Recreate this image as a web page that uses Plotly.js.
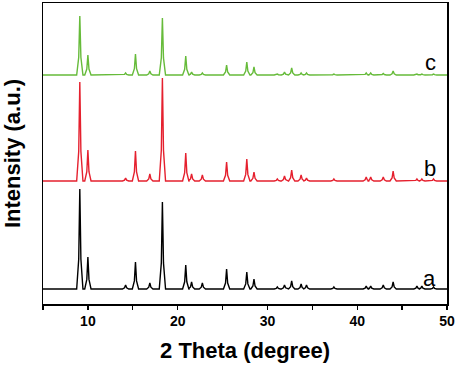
<!DOCTYPE html>
<html>
<head>
<meta charset="utf-8">
<script src="https://cdn.plot.ly/plotly-3.0.1.min.js"></script>
<style>html,body{margin:0;padding:0;background:#fff;}#plot{width:456px;height:367px;}</style>
</head>
<body>
<div id="plot"></div>
<script>
// Peak positions (2 theta, degree)
const peakPos = [9.1, 10.0, 14.2, 15.3, 16.9, 18.3, 20.9, 21.55, 22.75, 25.45, 27.7, 28.5, 31.1, 31.9, 32.7, 33.75, 34.35, 37.4, 41.0, 41.5, 42.9, 44.0, 46.65, 47.2, 48.5];
// Peak heights (a.u.) above each pattern's baseline
const heightsA = [100, 32, 4, 27, 6, 87, 24, 7, 6, 20, 17, 10, 2, 4, 8, 5, 4, 2, 3, 3, 4, 7, 3, 3, 2];
const heightsB = [99, 31, 3, 30, 7, 103, 28, 7, 6, 19, 22, 9, 2, 5, 11, 6, 3, 2, 4, 4, 4, 10, 2, 2, 2];
const heightsC = [59, 20, 2, 21, 4, 57, 19, 3, 2, 10, 13, 8, 1, 3, 7, 2, 2, 1, 2, 2, 1.5, 4, 1, 1, 1];
// Vertical offsets of the stacked patterns
const baseA = 0, baseB = 108, baseC = 214;
const labels = ['a', 'b', 'c'];
const xStart = 5, xEnd = 50;

function pattern(heights, base) {
  const xs = [xStart], ys = [base];
  peakPos.forEach((p, i) => {
    const h = heights[i];
    xs.push(p - 0.35, p - 0.12, p, p + 0.12, p + 0.35);
    ys.push(base, base + 0.3 * h, base + h, base + 0.3 * h, base);
  });
  xs.push(xEnd); ys.push(base);
  return {x: xs, y: ys};
}

const pa = pattern(heightsA, baseA), pb = pattern(heightsB, baseB), pc = pattern(heightsC, baseC);
const mk = (p, color) => ({x: p.x, y: p.y, type: 'scatter', mode: 'lines', line: {color: color, width: 1.4}, hoverinfo: 'skip', showlegend: false});
const data = [mk(pa, '#000000'), mk(pb, '#e5202e'), mk(pc, '#66bb3a')];

const FONT = 'Liberation Sans, Arial, sans-serif';
const layout = {
  width: 456, height: 367,
  margin: {l: 43, r: 9, t: 3, b: 63},
  paper_bgcolor: '#fff', plot_bgcolor: '#fff',
  xaxis: {
    range: [5, 50], tick0: 0, dtick: 10,
    ticks: 'outside', ticklen: 4, tickwidth: 1.3, tickcolor: '#000',
    minor: {dtick: 5, ticks: 'outside', ticklen: 4, tickwidth: 1.3, tickcolor: '#000', showgrid: false},
    showline: true, mirror: true, linecolor: '#000', linewidth: 1.5,
    showgrid: false, zeroline: false,
    tickfont: {family: FONT, size: 14, color: '#000', weight: 700},
    title: {text: '2 Theta (degree)', font: {family: FONT, size: 22, color: '#000', weight: 700}, standoff: 14}
  },
  yaxis: {
    range: [-15, 286],
    showticklabels: false, ticks: '',
    showline: true, mirror: true, linecolor: '#000', linewidth: 1.5,
    showgrid: false, zeroline: false,
    title: {text: 'Intensity (a.u.)', font: {family: FONT, size: 22, color: '#000', weight: 700}, standoff: 20}
  },
  annotations: [
    {x: 48.1, y: 11, text: labels[0], showarrow: false, font: {family: FONT, size: 22, color: '#000'}, xanchor: 'center', yanchor: 'middle'},
    {x: 48.1, y: 121, text: labels[1], showarrow: false, font: {family: FONT, size: 22, color: '#000'}, xanchor: 'center', yanchor: 'middle'},
    {x: 48.2, y: 227, text: labels[2], showarrow: false, font: {family: FONT, size: 22, color: '#000'}, xanchor: 'center', yanchor: 'middle'}
  ]
};
Plotly.newPlot('plot', data, layout, {staticPlot: true, displayModeBar: false});
</script>
</body>
</html>
